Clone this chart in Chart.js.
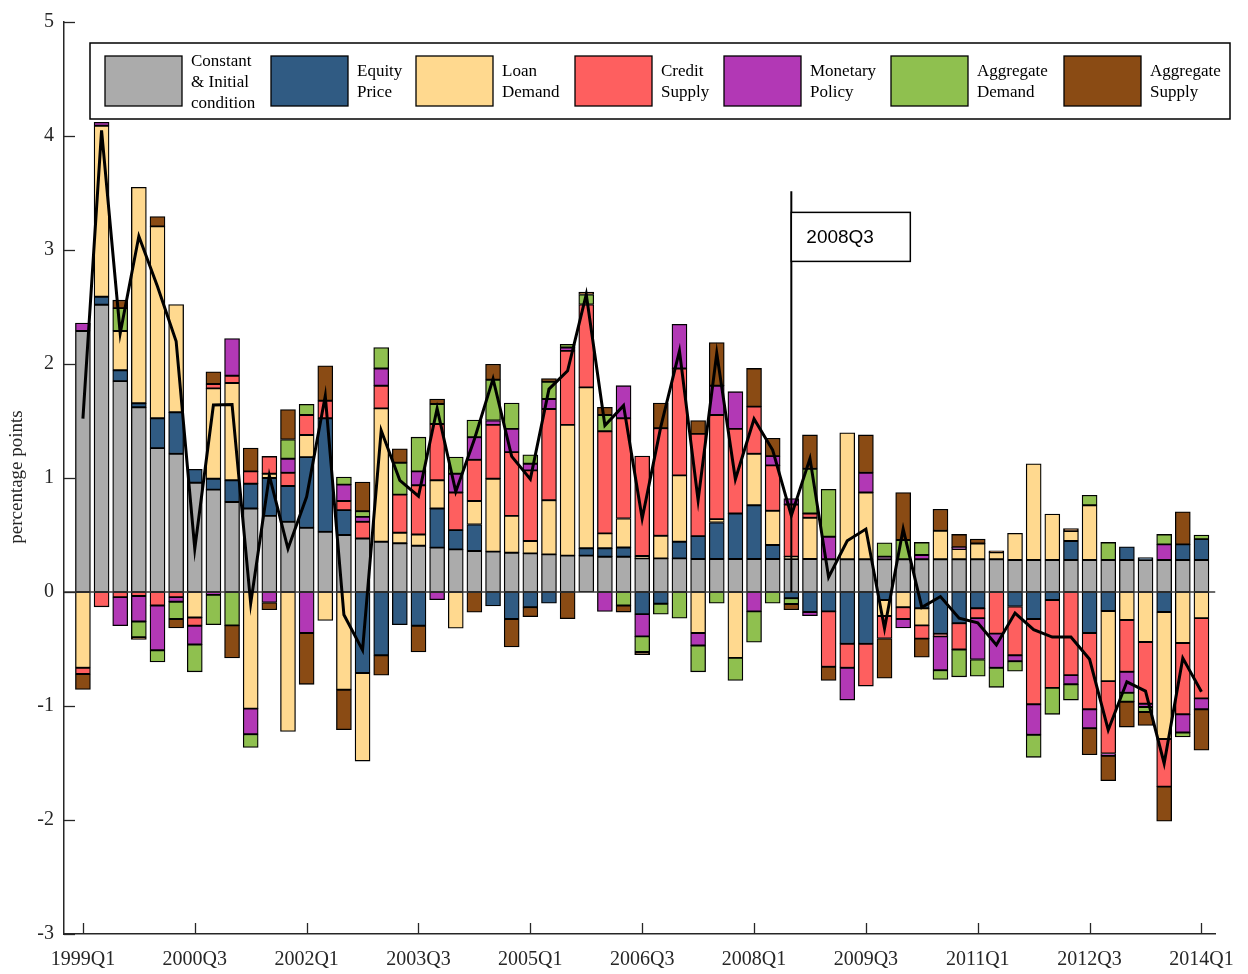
<!DOCTYPE html>
<html>
<head>
<meta charset="utf-8">
<script src="https://cdn.jsdelivr.net/npm/chart.js@4.4.1/dist/chart.umd.min.js"></script>
<style>
  html, body { margin: 0; padding: 0; background: #ffffff; }
  #wrap { width: 1248px; height: 974px; }
</style>
</head>
<body>
<div id="wrap"><canvas id="c" width="1248" height="974"></canvas></div>
<script>
// Quarterly contributions (percentage points) to the net change
const quarters = [
  '1999Q1','1999Q2','1999Q3','1999Q4','2000Q1','2000Q2','2000Q3','2000Q4',
  '2001Q1','2001Q2','2001Q3','2001Q4','2002Q1','2002Q2','2002Q3','2002Q4',
  '2003Q1','2003Q2','2003Q3','2003Q4','2004Q1','2004Q2','2004Q3','2004Q4',
  '2005Q1','2005Q2','2005Q3','2005Q4','2006Q1','2006Q2','2006Q3','2006Q4',
  '2007Q1','2007Q2','2007Q3','2007Q4','2008Q1','2008Q2','2008Q3','2008Q4',
  '2009Q1','2009Q2','2009Q3','2009Q4','2010Q1','2010Q2','2010Q3','2010Q4',
  '2011Q1','2011Q2','2011Q3','2011Q4','2012Q1','2012Q2','2012Q3','2012Q4',
  '2013Q1','2013Q2','2013Q3','2013Q4','2014Q1'
];
const tickQuarters = ['1999Q1','2000Q3','2002Q1','2003Q3','2005Q1','2006Q3','2008Q1','2009Q3','2011Q1','2012Q3','2014Q1'];
const markerQuarter = '2008Q3';
const markerLabel = '2008Q3';

const constantInitial = [
  2.29, 2.52, 1.85, 1.62, 1.262, 1.212, 0.959, 0.898, 0.79, 0.732,
  0.668, 0.616, 0.563, 0.528, 0.50, 0.47, 0.441, 0.427, 0.406, 0.389,
  0.374, 0.36, 0.354, 0.345, 0.339, 0.33, 0.319, 0.319, 0.31, 0.31,
  0.295, 0.295, 0.295, 0.29, 0.29, 0.29, 0.29, 0.29, 0.29, 0.29,
  0.287, 0.287, 0.287, 0.287, 0.287, 0.287, 0.287, 0.287, 0.287, 0.287,
  0.281, 0.281, 0.281, 0.281, 0.281, 0.281, 0.281, 0.281, 0.281, 0.281, 0.281
];
const equityPrice = [
  0, 0.07, 0.095, 0.035, 0.262, 0.364, 0.117, 0.096, 0.19, 0.218,
  0.332, 0.314, 0.62, 0.996, 0.218, -0.71, -0.555, -0.287, -0.296, 0.343,
  0.169, 0.232, -0.122, -0.237, -0.133, -0.098, 0, 0.064, 0.073, 0.081,
  -0.194, -0.103, 0.146, 0.20, 0.32, 0.398, 0.471, 0.122, -0.054, -0.176,
  -0.17, -0.454, -0.454, -0.07, 0, -0.143, -0.367, -0.274, -0.143, 0,
  -0.127, -0.237, -0.07, 0.166, -0.36, -0.166, 0.116, 0.02, -0.176, 0.137, 0.183
];
const loanDemand = [
  -0.665, 1.5, 0.345, 1.895, 1.683, 0.946, -0.223, 0.792, 0.853, -1.023,
  0.038, -1.224, 0.195, -0.249, -0.857, -0.773, 1.17, 0.093, 0.099, 0.248,
  -0.317, 0.207, 0.64, 0.323, 0.108, 0.475, 1.147, 1.412, 0.131, 0.254,
  0.02, 0.198, 0.582, -0.36, 0.029, -0.578, 0.451, 0.30, 0.02, 0.361,
  0, 1.109, 0.585, -0.14, -0.133, -0.15, 0.25, 0.09, 0.139, 0.061,
  0.233, 0.844, 0.402, 0.087, 0.48, -0.616, -0.245, -0.438, -1.114, -0.447, -0.229
];
const creditSupply = [
  -0.055, -0.13, -0.045, -0.035, -0.118, -0.045, -0.073, 0.038, 0.064, 0.108,
  0.151, 0.116, 0.175, 0.154, 0.081, 0.146, 0.199, 0.334, 0.431, 0.494,
  0.329, 0.361, 0.472, 0.559, 0.62, 0.80, 0.649, 0.727, 0.896, 0.879,
  0.877, 0.944, 0.938, 0.897, 0.914, 0.743, 0.414, 0.399, 0.457, 0.037,
  -0.486, -0.211, -0.371, -0.198, -0.104, -0.116, -0.022, -0.231, -0.086, -0.365,
  -0.428, -0.748, -0.771, -0.729, -0.669, -0.635, -0.455, -0.542, -0.417, -0.626, -0.704
];
const monetaryPolicy = [
  0.07, 0.03, -0.25, -0.223, -0.393, -0.04, -0.165, -0.025, 0.326, -0.224,
  -0.092, 0.123, -0.36, 0, 0.143, 0.043, 0.151, 0, 0.122, -0.068,
  0.166, 0.198, 0.038, 0.204, 0.058, 0.088, 0.029, 0, -0.17, 0.286,
  -0.195, 0, 0.387, -0.11, 0.257, 0.326, -0.17, 0.081, 0.052, -0.032,
  0.198, -0.283, 0.174, 0.023, -0.079, 0.038, -0.297, 0.015, -0.363, -0.30,
  -0.052, -0.268, 0, -0.081, -0.166, -0.02, -0.184, -0.029, 0.137, -0.16, -0.096
];
const aggregateDemand = [
  0, 0, 0.2, -0.139, -0.102, -0.152, -0.239, -0.262, -0.293, -0.117,
  0, 0.169, 0.093, 0, 0.067, 0.05, 0.183, 0.28, 0.30, 0.175,
  0.145, 0.151, 0.358, 0.227, 0.079, 0.151, 0.029, 0.088, 0.143, -0.118,
  -0.137, -0.091, -0.229, -0.23, -0.098, -0.198, -0.271, -0.098, -0.052, 0.393,
  0.416, 0, 0, 0.122, 0.169, 0.11, -0.081, -0.239, -0.146, -0.171,
  -0.087, -0.197, -0.232, -0.138, 0.088, 0.154, -0.078, -0.044, 0.087, -0.038, 0.036
];
const aggregateSupply = [
  -0.135, 0, 0.07, -0.018, 0.087, -0.079, 0, 0.108, -0.285, 0.204,
  -0.064, 0.262, -0.45, 0.306, -0.35, 0.256, -0.174, 0.122, -0.23, 0.044,
  0, -0.177, 0.136, -0.245, -0.084, 0.029, -0.234, 0.02, 0.067, -0.058,
  -0.023, 0.221, 0, 0.117, 0.378, 0, 0.335, 0.157, -0.05, 0.297,
  -0.12, 0, 0.332, -0.348, 0.416, -0.163, 0.189, 0.113, 0.038, 0.014,
  0, 0, 0, 0.023, -0.233, -0.218, -0.223, -0.117, -0.303, 0.285, -0.358
];
const netChange = [
  1.52, 4.05, 2.27, 3.12, 2.68, 2.20, 0.38, 1.64, 1.645, -0.10,
  1.02, 0.38, 0.835, 1.72, -0.20, -0.51, 1.417, 0.98, 0.84, 1.61,
  0.88, 1.34, 1.87, 1.19, 0.99, 1.78, 1.94, 2.61, 1.46, 1.635,
  0.645, 1.45, 2.115, 0.805, 2.094, 0.99, 1.518, 1.245, 0.67, 1.17,
  0.13, 0.45, 0.552, -0.32, 0.552, -0.135, -0.04, -0.23, -0.27, -0.465,
  -0.185, -0.33, -0.395, -0.395, -0.59, -1.21, -0.788, -0.869, -1.504, -0.58, -0.875
];

const componentNames = [
  ['Constant', '& Initial', 'condition'],
  ['Equity', 'Price'],
  ['Loan', 'Demand'],
  ['Credit', 'Supply'],
  ['Monetary', 'Policy'],
  ['Aggregate', 'Demand'],
  ['Aggregate', 'Supply']
];
const componentColors = ['#ababab', '#305b83', '#ffd98f', '#fe5f5f', '#b238b5', '#8fc04f', '#8a4b14'];
const componentSeries = [constantInitial, equityPrice, loanDemand, creditSupply, monetaryPolicy, aggregateDemand, aggregateSupply];
const yAxisTitle = 'percentage points';

const SERIF = "'Liberation Serif', 'Times New Roman', serif";
const SANS = "'Liberation Sans', Arial, sans-serif";

const toPoints = arr => arr.map((v, i) => ({ x: i, y: v === 0 ? null : v }));

const barSets = componentSeries.map((arr, k) => ({
  type: 'bar',
  label: componentNames[k].join(' '),
  data: toPoints(arr),
  backgroundColor: componentColors[k],
  borderColor: '#000000',
  borderWidth: 1.3,
  borderSkipped: false,
  barThickness: 15,
  stack: 'parts',
  order: 2
}));

const lineSet = {
  type: 'line',
  label: 'net',
  data: netChange.map((v, i) => ({ x: i, y: v })),
  borderColor: '#000000',
  borderWidth: 3,
  pointRadius: 0,
  tension: 0,
  fill: false,
  stack: 'net',
  order: 1
};

// Reference line at zero and the dated marker with its label box
const markerPlugin = {
  id: 'marker',
  beforeDatasetDraw(chart, args) {
    if (chart.data.datasets[args.index].stack !== 'net') return;
    const ctx = chart.ctx, xs = chart.scales.x, ys = chart.scales.y, area = chart.chartArea;
    ctx.save();
    const y0 = ys.getPixelForValue(0);
    ctx.strokeStyle = '#3a3a3a';
    ctx.lineWidth = 1.6;
    ctx.beginPath();
    ctx.moveTo(area.left, y0);
    ctx.lineTo(area.right, y0);
    ctx.stroke();

    const mx = xs.getPixelForValue(quarters.indexOf(markerQuarter));
    ctx.strokeStyle = '#000000';
    ctx.lineWidth = 2;
    ctx.beginPath();
    ctx.moveTo(mx, ys.getPixelForValue(3.515));
    ctx.lineTo(mx, y0);
    ctx.stroke();

    const boxTop = ys.getPixelForValue(3.33);
    const boxBottom = ys.getPixelForValue(2.9);
    ctx.fillStyle = '#ffffff';
    ctx.fillRect(mx, boxTop, 119, boxBottom - boxTop);
    ctx.lineWidth = 1.5;
    ctx.strokeRect(mx, boxTop, 119, boxBottom - boxTop);
    ctx.fillStyle = '#000000';
    ctx.font = '19px ' + SANS;
    ctx.textBaseline = 'middle';
    ctx.textAlign = 'left';
    ctx.fillText(markerLabel, mx + 15, (boxTop + boxBottom) / 2 + 1);
    ctx.restore();
  }
};

// Inward tick marks, y-axis title and the boxed legend
const decorPlugin = {
  id: 'decor',
  afterDraw(chart) {
    const ctx = chart.ctx, xs = chart.scales.x, ys = chart.scales.y, area = chart.chartArea;
    ctx.save();
    ctx.strokeStyle = '#262626';
    ctx.lineWidth = 1.3;
    ys.ticks.forEach(t => {
      const py = Math.round(ys.getPixelForValue(t.value)) + 0.5;
      ctx.beginPath();
      ctx.moveTo(area.left, py);
      ctx.lineTo(area.left + 11, py);
      ctx.stroke();
    });
    xs.ticks.forEach(t => {
      const px = Math.round(xs.getPixelForValue(t.value)) + 0.5;
      ctx.beginPath();
      ctx.moveTo(px, area.bottom);
      ctx.lineTo(px, area.bottom - 11);
      ctx.stroke();
    });

    ctx.fillStyle = '#262626';
    ctx.font = '19px ' + SERIF;
    ctx.textAlign = 'center';
    ctx.textBaseline = 'middle';
    ctx.translate(17, 477);
    ctx.rotate(-Math.PI / 2);
    ctx.fillText(yAxisTitle, 0, 0);
    ctx.restore();

    // legend
    ctx.save();
    ctx.fillStyle = '#ffffff';
    ctx.fillRect(90, 43, 1140, 76);
    ctx.strokeStyle = '#000000';
    ctx.lineWidth = 1.5;
    ctx.strokeRect(90, 43, 1140, 76);
    const swatchX = [105, 271, 416, 575, 724, 891, 1064];
    ctx.font = '17px ' + SERIF;
    ctx.textAlign = 'left';
    ctx.textBaseline = 'middle';
    componentNames.forEach((lines, k) => {
      ctx.fillStyle = componentColors[k];
      ctx.fillRect(swatchX[k], 56, 77, 50);
      ctx.lineWidth = 1.3;
      ctx.strokeStyle = '#000000';
      ctx.strokeRect(swatchX[k], 56, 77, 50);
      ctx.fillStyle = '#000000';
      const startY = lines.length === 3 ? 62 : 72;
      lines.forEach((s, j) => ctx.fillText(s, swatchX[k] + 86, startY + j * 21));
    });
    ctx.restore();
  }
};

new Chart(document.getElementById('c'), {
  data: { datasets: [...barSets, lineSet] },
  options: {
    responsive: false,
    animation: false,
    devicePixelRatio: 1,
    layout: { padding: { left: 0, top: 18, right: 28, bottom: 0 } },
    plugins: { legend: { display: false }, tooltip: { enabled: false } },
    scales: {
      x: {
        type: 'linear',
        offset: false,
        stacked: true,
        min: -1.015,
        max: 60.74,
        grid: { display: false, drawTicks: false, offset: false },
        border: { display: true, color: '#262626', width: 1.5 },
        afterBuildTicks(scale) {
          scale.ticks = tickQuarters.map(q => ({ value: quarters.indexOf(q) }));
        },
        ticks: {
          autoSkip: false,
          maxRotation: 0,
          padding: 14,
          color: '#262626',
          font: { family: SERIF, size: 20 },
          callback: v => quarters[v]
        },
        afterFit(scale) { scale.height = 40; }
      },
      y: {
        stacked: true,
        min: -3,
        max: 5,
        grid: { display: false, drawTicks: false },
        border: { display: true, color: '#262626', width: 1.5 },
        ticks: {
          stepSize: 1,
          padding: 10,
          color: '#262626',
          font: { family: SERIF, size: 20 }
        },
        afterFit(scale) { scale.width = 64; }
      }
    }
  },
  plugins: [markerPlugin, decorPlugin]
});
</script>
</body>
</html>
